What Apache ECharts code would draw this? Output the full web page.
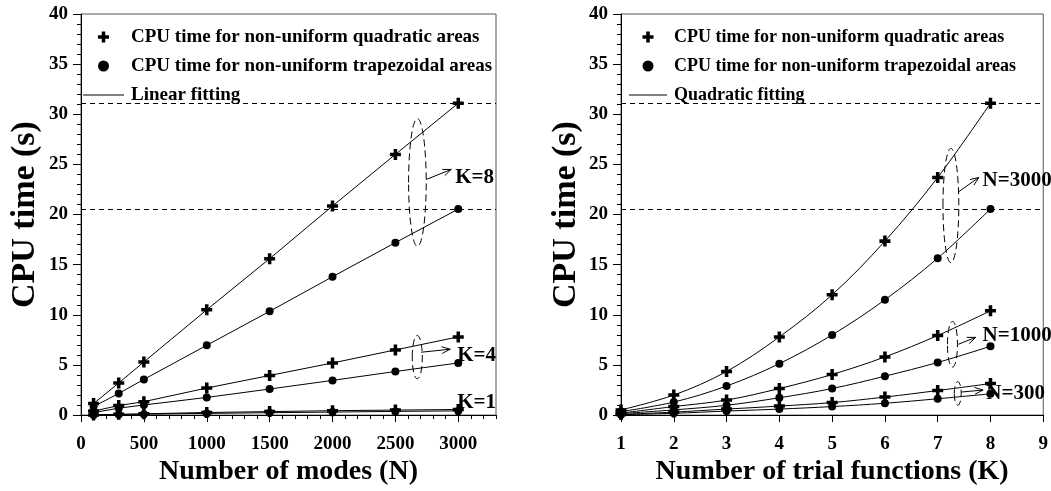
<!DOCTYPE html>
<html>
<head>
<meta charset="utf-8">
<script src="https://cdn.jsdelivr.net/npm/echarts@6/dist/echarts.min.js"></script>
<style>
html,body{margin:0;padding:0;background:#fff;}
#chart{width:1051px;height:491px;}
</style>
</head>
<body>
<div id="chart"></div>
<script>
// ---------- DATA ----------
const nModes = [100, 300, 500, 1000, 1500, 2000, 2500, 3000];
const k8Quad = [1.15, 3.2, 5.3, 10.5, 15.6, 20.85, 26.0, 31.1];
const k8Trap = [0.85, 2.16, 3.56, 6.96, 10.35, 13.8, 17.2, 20.55];
const k4Quad = [0.4, 0.95, 1.34, 2.7, 3.95, 5.2, 6.5, 7.8];
const k4Trap = [0.25, 0.69, 1.01, 1.76, 2.6, 3.46, 4.35, 5.2];
const k1Quad = [0.02, 0.08, 0.13, 0.26, 0.35, 0.44, 0.5, 0.56];
const k1Trap = [0.01, 0.05, 0.09, 0.17, 0.24, 0.3, 0.37, 0.42];

const kTrials = [1, 2, 3, 4, 5, 6, 7, 8];
const n3000Quad = [0.52, 2.0, 4.35, 7.8, 12.0, 17.35, 23.7, 31.1];
const n3000Trap = [0.35, 1.3, 2.9, 5.13, 8.0, 11.5, 15.65, 20.55];
const n1000Quad = [0.2, 0.85, 1.5, 2.65, 4.05, 5.8, 7.94, 10.4];
const n1000Trap = [0.15, 0.52, 0.98, 1.73, 2.65, 3.88, 5.25, 6.86];
const n300Quad = [0.07, 0.3, 0.6, 0.9, 1.25, 1.8, 2.45, 3.14];
const n300Trap = [0.04, 0.18, 0.4, 0.6, 0.85, 1.18, 1.63, 2.12];

const QUAD = 'CPU time for non-uniform quadratic areas';
const TRAP = 'CPU time for non-uniform trapezoidal areas';
const FIT_LEFT = 'Linear fitting';
const FIT_RIGHT = 'Quadratic fitting';
const X_NAME_LEFT = 'Number of modes (N)';
const X_NAME_RIGHT = 'Number of trial functions (K)';
const Y_NAME = 'CPU time (s)';

// annotation placements (data coordinates)
const leftNotes = [
  {label: 'K=8', ellipse: [2675, 23.2, 70, 6.37], arrow: [2745, 23.5, 2944, 24.5], text: [2976, 23.7]},
  {label: 'K=4', ellipse: [2674, 5.78, 40, 2.16], arrow: [2705, 6.27, 2936, 6.57], text: [2992, 5.9]},
  {label: 'K=1', ellipse: null, arrow: null, text: [2992, 1.2]}
];
const rightNotes = [
  {label: 'N=3000', ellipse: [7.25, 20.9, 0.15, 5.7], arrow: [7.39, 22.25, 7.78, 23.7], text: [7.85, 23.4]},
  {label: 'N=1000', ellipse: [7.28, 7.06, 0.095, 2.28], arrow: [7.39, 7.06, 7.72, 7.75], text: [7.85, 7.94]},
  {label: 'N=300', ellipse: [7.38, 2.16, 0.066, 1.18], arrow: [7.45, 2.3, 7.86, 2.5], text: [7.92, 2.16]}
];

// ---------- STYLE ----------
const FONT = '"Liberation Serif", "Times New Roman", serif';
const CROSS = 'path://M3.4,0H6.6V3.4H10V6.6H6.6V10H3.4V6.6H0V3.4H3.4Z';
const LINE_ICON = 'path://M0,0H40V1.1H0Z';

const chart = echarts.init(document.getElementById('chart'), null, {renderer: 'canvas'});

function pairs(xs, ys) { return xs.map((x, i) => [x, ys[i]]); }

function dataSeries(name, xi, yi, xs, ys, kind, smooth, dashLevel) {
  const s = {
    type: 'line', name, xAxisIndex: xi, yAxisIndex: yi,
    data: pairs(xs, ys),
    symbol: kind === 'cross' ? CROSS : 'circle',
    symbolSize: kind === 'cross' ? 11 : 8,
    showSymbol: true, smooth: smooth,
    lineStyle: {color: '#000', width: 1},
    itemStyle: {color: '#000'},
    emphasis: {disabled: true}, silent: true, z: 3
  };
  if (dashLevel) {
    s.markLine = {
      silent: true, symbol: 'none', label: {show: false},
      lineStyle: {color: '#000', width: 1, type: [5, 4]},
      data: [{yAxis: ys[ys.length - 1]}]
    };
  }
  return s;
}

function noteSeries(notes, xi, yi) {
  return {
    type: 'custom', xAxisIndex: xi, yAxisIndex: yi, clip: false, silent: true, z: 5,
    data: notes.map(n => n.text),
    renderItem: function (params, api) {
      const n = notes[params.dataIndex];
      const children = [];
      if (n.ellipse) {
        const c = api.coord([n.ellipse[0], n.ellipse[1]]);
        const s = api.size([n.ellipse[2], n.ellipse[3]]);
        children.push({type: 'ellipse', shape: {cx: c[0], cy: c[1], rx: s[0], ry: s[1]},
          style: {fill: 'none', stroke: '#000', lineWidth: 1, lineDash: [7, 4]}});
      }
      if (n.arrow) {
        const p0 = api.coord([n.arrow[0], n.arrow[1]]);
        const p1 = api.coord([n.arrow[2], n.arrow[3]]);
        const a = Math.atan2(p1[1] - p0[1], p1[0] - p0[0]);
        const L = 9, w = 0.38;
        const h1 = [p1[0] - L * Math.cos(a - w), p1[1] - L * Math.sin(a - w)];
        const h2 = [p1[0] - L * Math.cos(a + w), p1[1] - L * Math.sin(a + w)];
        children.push({type: 'line', shape: {x1: p0[0], y1: p0[1], x2: p1[0], y2: p1[1]},
          style: {stroke: '#000', lineWidth: 1}});
        children.push({type: 'polyline', shape: {points: [h1, p1, h2]},
          style: {stroke: '#000', lineWidth: 1, fill: 'none'}});
      }
      const t = api.coord([n.text[0], n.text[1]]);
      children.push({type: 'text', x: t[0], y: t[1],
        style: {text: n.label, font: 'bold 21px ' + FONT, fill: '#000', align: 'left', verticalAlign: 'middle'}});
      return {type: 'group', children};
    }
  };
}

const labelStyle = {fontFamily: FONT, fontWeight: 'bold', fontSize: 19, color: '#000'};
const nameStyleX = {fontFamily: FONT, fontWeight: 'bold', fontSize: 28, color: '#000'};
const nameStyleY = {fontFamily: FONT, fontWeight: 'bold', fontSize: 34, color: '#000'};
const axisLine = {show: true, onZero: false, lineStyle: {color: '#000', width: 1}};
const plain = v => String(v);

function yAxis(grid, gap) {
  return {
    type: 'value', gridIndex: grid, min: 0, max: 40, interval: 5,
    name: Y_NAME, nameLocation: 'middle', nameGap: gap, nameTextStyle: nameStyleY,
    axisLine, axisTick: {show: true, length: 8, lineStyle: {color: '#000'}},
    minorTick: {show: true, splitNumber: 5, length: 4, lineStyle: {color: '#000'}},
    axisLabel: Object.assign({margin: 13, formatter: plain}, labelStyle),
    splitLine: {show: false}, minorSplitLine: {show: false}
  };
}

function legendFor(left, fitName, size, width) {
  return {
    orient: 'vertical', left: left, top: 27, padding: 0,
    itemWidth: width, itemHeight: 11, itemGap: 9, symbolKeepAspect: true,
    selectedMode: false,
    textStyle: {fontFamily: FONT, fontWeight: 'bold', fontSize: size, color: '#000', lineHeight: 20, padding: [0, 0, 0, 2]},
    data: [
      {name: QUAD, icon: CROSS},
      {name: TRAP, icon: 'circle'},
      {name: fitName, icon: LINE_ICON}
    ]
  };
}

const option = {
  animation: false,
  backgroundColor: '#fff',
  grid: [
    {left: 81, top: 14, width: 415, height: 408, show: true, borderColor: '#555', borderWidth: 1, backgroundColor: 'transparent'},
    {left: 621, top: 14, width: 423, height: 408, show: true, borderColor: '#555', borderWidth: 1, backgroundColor: 'transparent'}
  ],
  legend: [legendFor(83, FIT_LEFT, 19, 41), legendFor(629, FIT_RIGHT, 18, 38)],
  xAxis: [
    {
      type: 'value', gridIndex: 0, position: 'bottom', min: 0, max: 3300, interval: 500,
      name: X_NAME_LEFT, nameLocation: 'middle', nameGap: 41, nameTextStyle: nameStyleX,
      axisLine, axisTick: {show: true, length: 7, lineStyle: {color: '#000'}},
      axisLabel: Object.assign({margin: 19, showMaxLabel: false, formatter: plain}, labelStyle),
      splitLine: {show: false}
    },
    {
      type: 'value', gridIndex: 0, position: 'bottom', min: 0, max: 3300, interval: 100,
      axisLine: {show: false}, axisTick: {show: true, length: 4, lineStyle: {color: '#000'}},
      axisLabel: {show: false}, splitLine: {show: false}
    },
    {
      type: 'value', gridIndex: 1, position: 'bottom', min: 1, max: 9, interval: 1,
      name: X_NAME_RIGHT, nameLocation: 'middle', nameGap: 41, nameTextStyle: nameStyleX,
      axisLine, axisTick: {show: true, length: 7, lineStyle: {color: '#000'}},
      axisLabel: Object.assign({margin: 19, formatter: plain}, labelStyle),
      splitLine: {show: false}
    }
  ],
  yAxis: [yAxis(0, 39), yAxis(1, 38)],
  series: [
    dataSeries(QUAD, 0, 0, nModes, k8Quad, 'cross', false, true),
    dataSeries(TRAP, 0, 0, nModes, k8Trap, 'dot', false, true),
    dataSeries(QUAD, 0, 0, nModes, k4Quad, 'cross', false, false),
    dataSeries(TRAP, 0, 0, nModes, k4Trap, 'dot', false, false),
    dataSeries(QUAD, 0, 0, nModes, k1Quad, 'cross', false, false),
    dataSeries(TRAP, 0, 0, nModes, k1Trap, 'dot', false, false),
    {type: 'line', name: FIT_LEFT, xAxisIndex: 0, yAxisIndex: 0, data: [], itemStyle: {color: '#000'}, lineStyle: {color: '#000'}},

    dataSeries(QUAD, 2, 1, kTrials, n3000Quad, 'cross', 0.35, true),
    dataSeries(TRAP, 2, 1, kTrials, n3000Trap, 'dot', 0.35, true),
    dataSeries(QUAD, 2, 1, kTrials, n1000Quad, 'cross', 0.35, false),
    dataSeries(TRAP, 2, 1, kTrials, n1000Trap, 'dot', 0.35, false),
    dataSeries(QUAD, 2, 1, kTrials, n300Quad, 'cross', 0.35, false),
    dataSeries(TRAP, 2, 1, kTrials, n300Trap, 'dot', 0.35, false),
    {type: 'line', name: FIT_RIGHT, xAxisIndex: 2, yAxisIndex: 1, data: [], itemStyle: {color: '#000'}, lineStyle: {color: '#000'}},

    noteSeries(leftNotes, 0, 0),
    noteSeries(rightNotes, 2, 1)
  ]
};
chart.setOption(option);
</script>
</body>
</html>
